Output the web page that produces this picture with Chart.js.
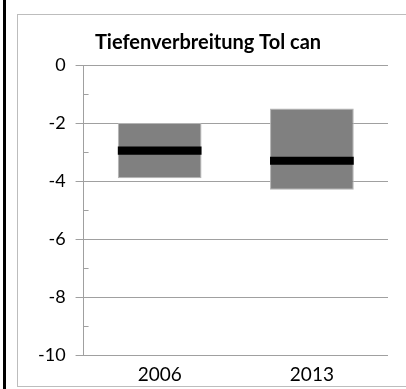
<!DOCTYPE html>
<html>
<head>
<meta charset="utf-8">
<script src="https://cdn.jsdelivr.net/npm/chart.js@4/dist/chart.umd.min.js"></script>
<style>
  html, body { margin: 0; padding: 0; background: #fff; }
  #edge { position: absolute; left: 3px; top: 0; width: 3px; height: 389px; background: #000; }
  #frame { position: absolute; left: 17px; top: 14px; width: 400px; height: 371px; border: 1px solid #bdbdbd; }
  #wrap { position: absolute; left: 0; top: 0; width: 389px; height: 371px; }
</style>
</head>
<body>
<div id="edge"></div>
<div id="frame"><div id="wrap"><canvas id="depthChart"></canvas></div></div>
<script>
const years = ['2006', '2013'];
const depthTop = [-2.0, -1.5];
const depthBottom = [-3.9, -4.3];
const depthMedian = [-2.95, -3.3];
const yMin = -10, yMax = 0, yStep = 2;

const band = 0.14; // half thickness of the median bar

/* small inner ticks at the odd values */
const minorTicks = {
  id: 'minorTicks',
  afterDraw(chart) {
    const y = chart.scales.y;
    const ctx = chart.ctx;
    ctx.save();
    ctx.strokeStyle = '#a0a0a0';
    ctx.lineWidth = 1;
    for (let v = yMin + 1; v < yMax; v += yStep) {
      const py = Math.round(y.getPixelForValue(v)) + 0.5;
      ctx.beginPath();
      ctx.moveTo(y.right, py);
      ctx.lineTo(y.right + 5, py);
      ctx.stroke();
    }
    ctx.restore();
  }
};

new Chart(document.getElementById('depthChart'), {
  type: 'bar',
  data: {
    labels: years,
    datasets: [{
      data: depthMedian.map(m => [m - band, m + band]),
      backgroundColor: '#000000',
      borderWidth: 0,
      order: 0
    }, {
      data: depthTop.map((t, i) => [depthBottom[i], t]),
      backgroundColor: '#808080',
      borderColor: '#b4b4b4',
      borderWidth: 1,
      borderSkipped: false,
      order: 1
    }]
  },
  options: {
    responsive: true,
    maintainAspectRatio: false,
    animation: false,
    layout: {
      padding: { top: 0, right: 19, bottom: 0, left: 10 }
    },
    datasets: {
      bar: { grouped: false, categoryPercentage: 1, barPercentage: 0.55 }
    },
    plugins: {
      legend: { display: false },
      tooltip: { enabled: false },
      title: {
        display: true,
        text: 'Tiefenverbreitung Tol can',
        color: '#000',
        font: { family: 'Lato', size: 20, weight: 'bold' },
        padding: { top: 16, bottom: 10 }
      }
    },
    scales: {
      x: {
        grid: { display: false },
        border: { display: false },
        ticks: { color: '#000', font: { family: 'Lato', size: 19 }, padding: 0 }
      },
      y: {
        min: yMin,
        max: yMax,
        ticks: { stepSize: yStep, color: '#000', font: { family: 'Lato', size: 18 }, padding: 10 },
        grid: { color: '#a0a0a0', tickLength: 8, drawTicks: true },
        border: { display: true, color: '#a0a0a0' }
      }
    }
  },
  plugins: [minorTicks]
});
</script>
</body>
</html>
